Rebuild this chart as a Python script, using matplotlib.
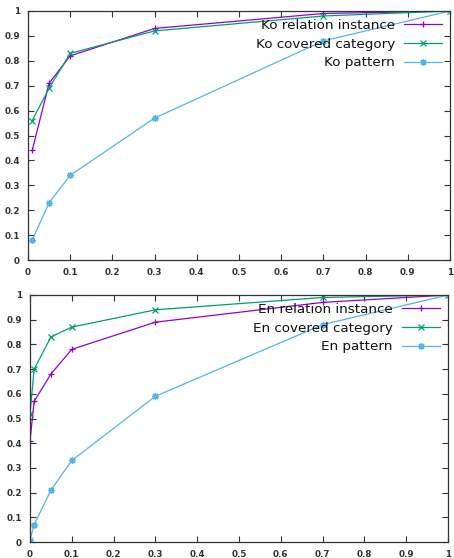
import numpy as np
import matplotlib.pyplot as plt

# Ko (top panel)
ko_x = [0.01, 0.05, 0.1, 0.3, 0.7, 1.0]
ko_relation = [0.44, 0.71, 0.82, 0.93, 0.99, 1.0]
ko_category = [0.56, 0.69, 0.83, 0.92, 0.98, 1.0]
ko_pattern = [0.08, 0.23, 0.34, 0.57, 0.88, 1.0]

# En (bottom panel)
en_x = [0.0, 0.01, 0.05, 0.1, 0.3, 0.7, 1.0]
en_relation = [0.41, 0.57, 0.68, 0.78, 0.89, 0.97, 1.0]
en_category = [0.52, 0.70, 0.83, 0.87, 0.94, 0.99, 1.0]
en_pattern = [0.01, 0.07, 0.21, 0.33, 0.59, 0.88, 1.0]

ticks = [0, 0.1, 0.2, 0.3, 0.4, 0.5, 0.6, 0.7, 0.8, 0.9, 1]
tick_labels = ['0', '0.1', '0.2', '0.3', '0.4', '0.5', '0.6', '0.7', '0.8', '0.9', '1']

purple = '#9400d3'
green = '#009e73'
blue = '#56b4e9'

fig = plt.figure(figsize=(4.54, 5.58), dpi=100)
W, H = 454, 558
ax1 = fig.add_axes([28 / W, 1 - 260 / H, 422 / W, 249 / H])
ax2 = fig.add_axes([30 / W, 1 - 542 / H, 418 / W, 247 / H])


def draw(ax, x, rel, cat, pat, prefix):
    ax.plot(x, rel, color=purple, lw=0.9, marker='+', ms=5, mew=0.9,
            label=prefix + ' relation instance')
    ax.plot(x, cat, color=green, lw=0.9, marker='x', ms=4, mew=0.9,
            label=prefix + ' covered category')
    ax.plot(x, pat, color=blue, lw=0.9, marker=(8, 2, 0), ms=5, mew=0.9,
            label=prefix + ' pattern')
    ax.set_xlim(0, 1)
    ax.set_ylim(0, 1)
    ax.set_xticks(ticks)
    ax.set_xticklabels(tick_labels, fontweight='bold')
    ax.set_yticks(ticks)
    ax.set_yticklabels(tick_labels, fontweight='bold')
    ax.tick_params(direction='in', top=True, right=True, length=4,
                   labelsize=6.3, colors='#333333', pad=6)
    for s in ax.spines.values():
        s.set_color('#333333')
        s.set_linewidth(0.9)
    ax.legend(loc='upper right', frameon=False, markerfirst=False,
              fontsize=9.7, handlelength=2.8, labelspacing=0.42,
              borderaxespad=0.2, handletextpad=0.7, labelcolor='#111111')


draw(ax1, ko_x, ko_relation, ko_category, ko_pattern, 'Ko')
draw(ax2, en_x, en_relation, en_category, en_pattern, 'En')

plt.savefig('out.png', dpi=100)
